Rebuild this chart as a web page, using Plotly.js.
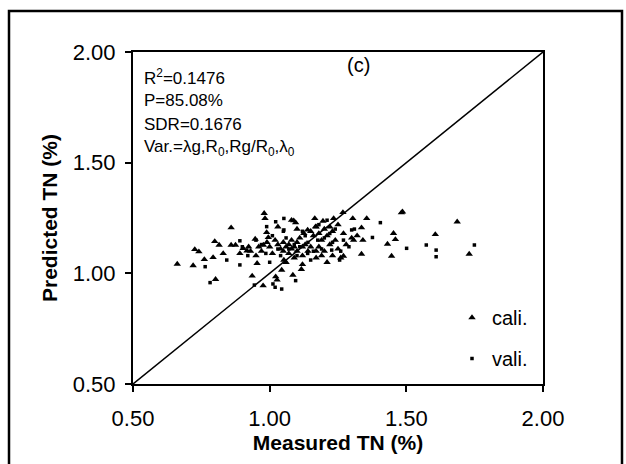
<!DOCTYPE html>
<html><head><meta charset="utf-8">
<script src="https://cdn.plot.ly/plotly-3.0.1.min.js"></script>
<style>body{margin:0;background:#fff}#c{width:626px;height:464px}</style>
</head><body><div id="c"></div>
<script>
var caliX=[0.662,0.720,0.726,0.741,0.761,0.793,0.802,0.799,0.815,0.830,0.859,0.859,0.875,0.891,0.903,0.917,0.923,0.936,0.947,0.954,0.976,0.980,0.983,0.977,0.989,0.995,1.022,1.027,1.044,1.052,1.085,1.088,1.095,1.116,1.125,1.139,1.165,1.168,1.195,1.234,1.268,1.304,1.355,1.336,1.341,1.336,1.307,1.270,1.431,1.446,1.453,1.460,1.482,1.486,1.606,1.686,1.730,
0.93,0.95,0.96,0.97,0.99,1.00,1.01,1.02,1.03,1.04,1.05,1.05,1.06,1.07,1.07,1.08,1.08,1.09,1.10,1.10,1.11,1.12,1.12,1.13,1.14,1.15,1.16,1.17,1.17,1.18,1.18,1.19,1.19,1.20,1.21,1.21,1.22,1.22,1.23,1.23,1.24,1.25,1.25,1.26,1.27,1.28,1.30,1.32,1.03,1.06,1.09,1.12,1.15,1.17,1.20,1.10,1.08];
var caliY=[1.042,1.035,1.108,1.098,1.063,1.072,0.973,1.144,1.128,1.090,1.206,1.128,1.128,1.090,1.113,1.102,1.120,0.988,1.155,1.045,0.944,1.271,1.248,1.128,1.185,1.162,0.985,0.970,1.015,1.060,0.992,1.238,1.229,1.018,1.181,1.196,1.248,1.211,1.236,1.248,1.275,1.248,1.248,1.206,1.150,1.087,1.150,1.078,1.132,1.078,1.181,1.153,1.274,1.278,1.176,1.233,1.087,
1.10,1.08,1.12,1.10,1.14,1.12,1.09,1.15,1.13,1.11,1.14,1.10,1.12,1.13,1.09,1.11,1.15,1.12,1.10,1.14,1.16,1.12,1.08,1.13,1.10,1.19,1.17,1.21,1.10,1.12,1.18,1.08,1.15,1.20,1.17,1.05,1.13,1.21,1.19,1.08,1.15,1.11,1.22,1.07,1.18,1.13,1.16,1.17,1.21,1.05,1.07,1.04,1.12,1.07,1.10,1.20,1.24];
var valiX=[0.764,0.782,0.843,0.891,0.891,0.944,0.989,0.986,1.012,1.020,1.022,1.044,1.052,1.052,1.095,1.139,1.176,1.227,1.256,1.300,1.376,1.405,1.501,1.573,1.609,1.609,1.749,
0.97,1.01,1.03,1.04,1.06,1.07,1.09,1.10,1.11,1.13,1.14,1.16,1.18,1.19,1.20,1.21,1.22,1.23,1.24,1.26,1.27,1.29,1.31,1.15,1.05,1.12,0.95,0.92,0.90,1.00];
var valiY=[1.030,0.958,1.060,1.038,1.147,0.947,1.211,1.090,0.952,0.937,1.233,0.929,1.248,1.196,0.967,1.090,1.150,1.105,1.060,1.196,1.162,1.229,1.113,1.128,1.105,1.075,1.128,
1.13,1.17,1.11,1.08,1.16,1.11,1.13,1.08,1.12,1.17,1.14,1.10,1.22,1.11,1.16,1.24,1.18,1.14,1.20,1.10,1.15,1.12,1.20,1.06,1.19,1.19,1.15,1.08,1.12,1.05];
var tickVals=[0.5,1.0,1.5,2.0];
var tickText=['0.50','1.00','1.50','2.00'];
var stats=['R<sup>2</sup>=0.1476','P=85.08%','SDR=0.1676','Var.=λg,R<sub>0</sub>,Rg/R<sub>0</sub>,λ<sub>0</sub>'];

var F='Liberation Sans, Arial, sans-serif';
var traces=[
 {x:caliX,y:caliY,mode:'markers',type:'scatter',name:'cali.',legendgroup:'a',
  marker:{symbol:'triangle-up',size:6.5,color:'#000'}},
 {x:valiX,y:valiY,mode:'markers',type:'scatter',name:'vali.',legendgroup:'b',
  marker:{symbol:'square',size:3.5,color:'#000'}}
];
var ann=stats.map(function(s,i){return {text:s,xref:'paper',yref:'paper',x:0.022,y:(384-77-i*23.7)/332,
 xanchor:'left',yanchor:'middle',showarrow:false,font:{family:F,size:17,color:'#000'}};});
ann.push({text:'(c)',xref:'paper',yref:'paper',x:(358-133)/410,y:(384-65)/332,xanchor:'center',yanchor:'middle',showarrow:false,font:{family:F,size:20,color:'#000'}});
var ax={range:[0.5,2.0],tickvals:tickVals,ticktext:tickText,showgrid:false,zeroline:false,
 showline:true,linecolor:'#000',linewidth:2,mirror:true,ticks:'outside',ticklen:6,tickwidth:2,tickcolor:'#000',
 tickfont:{family:F,size:22,color:'#000'}};
var layout={
 width:626,height:464,margin:{l:133,r:83,t:52,b:80},paper_bgcolor:'#fff',plot_bgcolor:'#fff',
 xaxis:Object.assign({},ax,{ticklabelstandoff:8,title:{text:'<b>Measured TN (%)</b>',font:{family:F,size:21,color:'#000'},standoff:1}}),
 yaxis:Object.assign({},ax,{ticklabelstandoff:5,title:{text:'<b>Predicted TN (%)</b>',font:{family:F,size:21,color:'#000'},standoff:9}}),
 showlegend:true,
 legend:{x:(452-133)/410,y:(384-298)/332,xanchor:'left',yanchor:'top',bgcolor:'rgba(0,0,0,0)',traceorder:'grouped',tracegroupgap:12,
  font:{family:F,size:20,color:'#000'},itemwidth:30},
 annotations:ann,
 shapes:[
  {type:'line',xref:'x',yref:'y',x0:0.5,y0:0.5,x1:2.0,y1:2.0,line:{color:'#000',width:1.5}},
  {type:'rect',xref:'paper',yref:'paper',x0:(9-133)/410,x1:(622-133)/410,y0:(384-475)/332,y1:(384-11)/332,line:{color:'#000',width:2.5}}
 ]
};
Plotly.newPlot('c',traces,layout,{staticPlot:true});
</script></body></html>
